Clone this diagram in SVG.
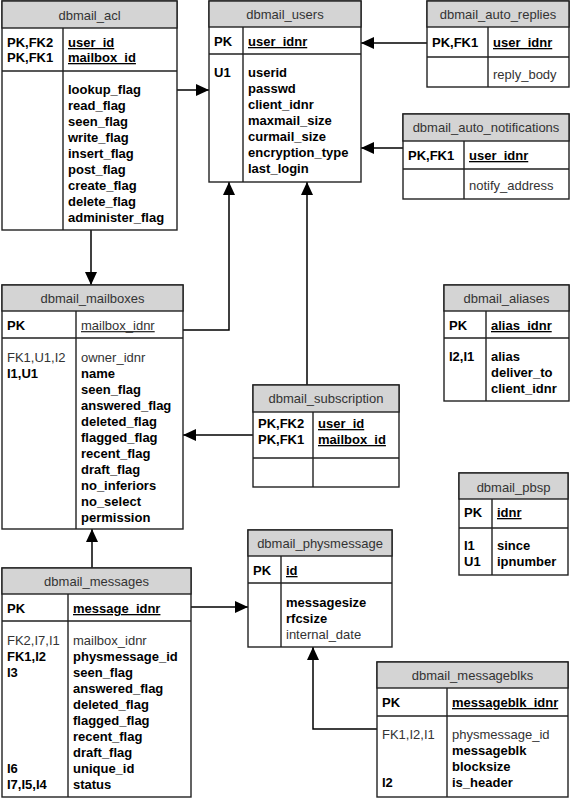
<svg xmlns="http://www.w3.org/2000/svg" width="570" height="798" viewBox="0 0 570 798">
<style>
.box{fill:#fff;stroke:#222;stroke-width:1.4}
.hd{fill:#d4d4d4;stroke:#222;stroke-width:1.4}
.ln{stroke:#222;stroke-width:1.4;fill:none}
text{font-family:"Liberation Sans",Arial,sans-serif;font-size:13px}
.t{fill:#333;text-anchor:middle}
.b{font-weight:bold;fill:#000}
.n{fill:#333}
.u{text-decoration:underline}
.c{stroke:#000;stroke-width:1.5;fill:none;marker-end:url(#ar)}
</style>
<defs>
<marker id="ar" markerUnits="userSpaceOnUse" markerWidth="13" markerHeight="12" refX="13" refY="6" orient="auto">
<path d="M0,0 L13,6 L0,12 z" fill="#000"/>
</marker>
</defs>

<g id="connectors">
<path class="c" d="M177,90 H209"/>
<path class="c" d="M427,43 H361"/>
<path class="c" d="M403,148 H361"/>
<path class="c" d="M91,230 V285"/>
<path class="c" d="M183,330 H229 V182"/>
<path class="c" d="M307,385 V182"/>
<path class="c" d="M253,435 H183"/>
<path class="c" d="M92,568 V529"/>
<path class="c" d="M191,607 H248"/>
<path class="c" d="M377,729 H313 V647"/>
</g>

<g id="dbmail_acl">
<rect class="box" x="2" y="1" width="175" height="229"/>
<rect class="hd" x="2" y="1" width="175" height="27"/>
<path class="ln" d="M2,71 H177 M63,28 V230"/>
<text class="t" x="89.5" y="20">dbmail_acl</text>
<text class="b" x="7" y="47">PK,FK2</text>
<text class="b" x="7" y="62">PK,FK1</text>
<text class="b u" x="68" y="47">user_id</text>
<text class="b u" x="68" y="62">mailbox_id</text>
<text class="b" x="68" y="94">lookup_flag</text>
<text class="b" x="68" y="110">read_flag</text>
<text class="b" x="68" y="126">seen_flag</text>
<text class="b" x="68" y="142">write_flag</text>
<text class="b" x="68" y="158">insert_flag</text>
<text class="b" x="68" y="174">post_flag</text>
<text class="b" x="68" y="190">create_flag</text>
<text class="b" x="68" y="206">delete_flag</text>
<text class="b" x="68" y="222">administer_flag</text>
</g>

<g id="dbmail_users">
<rect class="box" x="209" y="1" width="152" height="181"/>
<rect class="hd" x="209" y="1" width="152" height="26"/>
<path class="ln" d="M209,54 H361 M243,27 V182"/>
<text class="t" x="285" y="19">dbmail_users</text>
<text class="b" x="214" y="46">PK</text>
<text class="b u" x="248" y="46">user_idnr</text>
<text class="b" x="214" y="77">U1</text>
<text class="b" x="248" y="77">userid</text>
<text class="b" x="248" y="93">passwd</text>
<text class="b" x="248" y="109">client_idnr</text>
<text class="b" x="248" y="125">maxmail_size</text>
<text class="b" x="248" y="141">curmail_size</text>
<text class="b" x="248" y="157">encryption_type</text>
<text class="b" x="248" y="173">last_login</text>
</g>

<g id="dbmail_auto_replies">
<rect class="box" x="427" y="1" width="142" height="86"/>
<rect class="hd" x="427" y="1" width="142" height="26"/>
<path class="ln" d="M427,57 H569 M488,27 V87"/>
<text class="t" x="498" y="19">dbmail_auto_replies</text>
<text class="b" x="432" y="47">PK,FK1</text>
<text class="b u" x="493" y="47">user_idnr</text>
<text class="n" x="493" y="79">reply_body</text>
</g>

<g id="dbmail_auto_notifications">
<rect class="box" x="403" y="114" width="166" height="85"/>
<rect class="hd" x="403" y="114" width="166" height="27"/>
<path class="ln" d="M403,169 H569 M464,141 V199"/>
<text class="t" x="486" y="132">dbmail_auto_notifications</text>
<text class="b" x="408" y="160">PK,FK1</text>
<text class="b u" x="469" y="160">user_idnr</text>
<text class="n" x="469" y="190">notify_address</text>
</g>

<g id="dbmail_mailboxes">
<rect class="box" x="2" y="285" width="181" height="244"/>
<rect class="hd" x="2" y="285" width="181" height="26"/>
<path class="ln" d="M2,338 H183 M76,311 V529"/>
<text class="t" x="92.5" y="303">dbmail_mailboxes</text>
<text class="b" x="7" y="330">PK</text>
<text class="n u" x="81" y="330">mailbox_idnr</text>
<text class="n" x="7" y="362">FK1,U1,I2</text>
<text class="b" x="7" y="378">I1,U1</text>
<text class="n" x="81" y="362">owner_idnr</text>
<text class="b" x="81" y="378">name</text>
<text class="b" x="81" y="394">seen_flag</text>
<text class="b" x="81" y="410">answered_flag</text>
<text class="b" x="81" y="426">deleted_flag</text>
<text class="b" x="81" y="442">flagged_flag</text>
<text class="b" x="81" y="458">recent_flag</text>
<text class="b" x="81" y="474">draft_flag</text>
<text class="b" x="81" y="490">no_inferiors</text>
<text class="b" x="81" y="506">no_select</text>
<text class="b" x="81" y="522">permission</text>
</g>

<g id="dbmail_subscription">
<rect class="box" x="253" y="385" width="146" height="102"/>
<rect class="hd" x="253" y="385" width="146" height="27"/>
<path class="ln" d="M253,458 H399 M313,412 V487"/>
<text class="t" x="326" y="403">dbmail_subscription</text>
<text class="b" x="258" y="428">PK,FK2</text>
<text class="b" x="258" y="444">PK,FK1</text>
<text class="b u" x="318" y="428">user_id</text>
<text class="b u" x="318" y="444">mailbox_id</text>
</g>

<g id="dbmail_aliases">
<rect class="box" x="444" y="285" width="125" height="116"/>
<rect class="hd" x="444" y="285" width="125" height="26"/>
<path class="ln" d="M444,338 H569 M486,311 V401"/>
<text class="t" x="506.5" y="303">dbmail_aliases</text>
<text class="b" x="449" y="330">PK</text>
<text class="b u" x="491" y="330">alias_idnr</text>
<text class="b" x="449" y="361">I2,I1</text>
<text class="b" x="491" y="361">alias</text>
<text class="b" x="491" y="377">deliver_to</text>
<text class="b" x="491" y="393">client_idnr</text>
</g>

<g id="dbmail_pbsp">
<rect class="box" x="459" y="473" width="109" height="102"/>
<rect class="hd" x="459" y="473" width="109" height="26"/>
<path class="ln" d="M459,528 H568 M492,499 V575"/>
<text class="t" x="513.5" y="492">dbmail_pbsp</text>
<text class="b" x="464" y="517">PK</text>
<text class="b u" x="497" y="517">idnr</text>
<text class="b" x="464" y="550">I1</text>
<text class="b" x="464" y="566">U1</text>
<text class="b" x="497" y="550">since</text>
<text class="b" x="497" y="566">ipnumber</text>
</g>

<g id="dbmail_physmessage">
<rect class="box" x="248" y="530" width="144" height="117"/>
<rect class="hd" x="248" y="530" width="144" height="26"/>
<path class="ln" d="M248,583 H392 M281,556 V647"/>
<text class="t" x="320" y="548">dbmail_physmessage</text>
<text class="b" x="253" y="575">PK</text>
<text class="b u" x="286" y="575">id</text>
<text class="b" x="286" y="607">messagesize</text>
<text class="b" x="286" y="623">rfcsize</text>
<text class="n" x="286" y="639">internal_date</text>
</g>

<g id="dbmail_messages">
<rect class="box" x="2" y="568" width="189" height="229"/>
<rect class="hd" x="2" y="568" width="189" height="26"/>
<path class="ln" d="M2,621 H191 M68,594 V797"/>
<text class="t" x="96.5" y="586">dbmail_messages</text>
<text class="b" x="7" y="613">PK</text>
<text class="b u" x="73" y="613">message_idnr</text>
<text class="n" x="7" y="645">FK2,I7,I1</text>
<text class="b" x="7" y="661">FK1,I2</text>
<text class="b" x="7" y="677">I3</text>
<text class="b" x="7" y="773">I6</text>
<text class="b" x="7" y="789">I7,I5,I4</text>
<text class="n" x="73" y="645">mailbox_idnr</text>
<text class="b" x="73" y="661">physmessage_id</text>
<text class="b" x="73" y="677">seen_flag</text>
<text class="b" x="73" y="693">answered_flag</text>
<text class="b" x="73" y="709">deleted_flag</text>
<text class="b" x="73" y="725">flagged_flag</text>
<text class="b" x="73" y="741">recent_flag</text>
<text class="b" x="73" y="757">draft_flag</text>
<text class="b" x="73" y="773">unique_id</text>
<text class="b" x="73" y="789">status</text>
</g>

<g id="dbmail_messageblks">
<rect class="box" x="377" y="662" width="191" height="135"/>
<rect class="hd" x="377" y="662" width="191" height="26"/>
<path class="ln" d="M377,716 H568 M447,688 V797"/>
<text class="t" x="472.5" y="680">dbmail_messageblks</text>
<text class="b" x="382" y="707">PK</text>
<text class="b u" x="452" y="707">messageblk_idnr</text>
<text class="n" x="382" y="739">FK1,I2,I1</text>
<text class="b" x="382" y="787">I2</text>
<text class="n" x="452" y="739">physmessage_id</text>
<text class="b" x="452" y="755">messageblk</text>
<text class="b" x="452" y="771">blocksize</text>
<text class="b" x="452" y="787">is_header</text>
</g>
</svg>
